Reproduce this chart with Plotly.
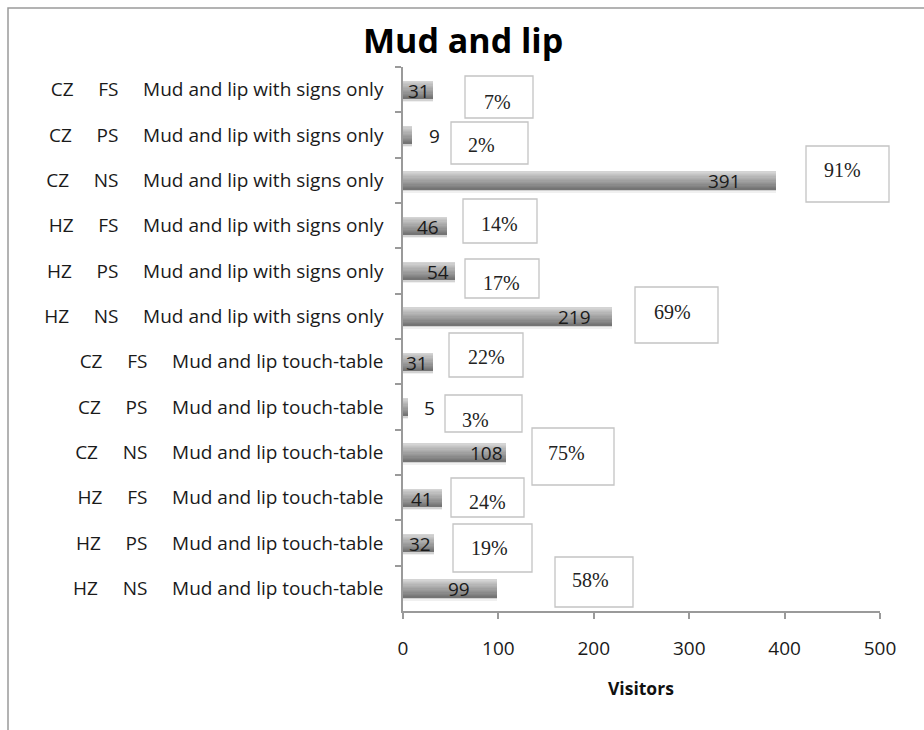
import plotly.graph_objects as go

# Visitor counts per site / survey group / exhibit, top row first
site = ["CZ", "CZ", "CZ", "HZ", "HZ", "HZ", "CZ", "CZ", "CZ", "HZ", "HZ", "HZ"]
group = ["FS", "PS", "NS", "FS", "PS", "NS", "FS", "PS", "NS", "FS", "PS", "NS"]
exhibit = ["Mud and lip with signs only"] * 6 + ["Mud and lip touch-table"] * 6
visitors = [31, 9, 391, 46, 54, 219, 31, 5, 108, 41, 32, 99]
share_pct = [7, 2, 91, 14, 17, 69, 22, 3, 75, 24, 19, 58]
x_ticks = [0, 100, 200, 300, 400, 500]

SP = "\u00a0" * 5
categories = [f"{s}{SP}{g}{SP}{e}" for s, g, e in zip(site, group, exhibit)]

# figure geometry (pixels)
W, H = 924, 730
ML, MR, MT, MB = 403, 44, 67, 119
PW, PH = W - ML - MR, H - MT - MB


def px_x(px):
    return (px - ML) / PW


def px_y(py):
    return (H - MB - py) / PH


SANS = "'Open Sans', 'Noto Sans', sans-serif"
SERIF = "'Liberation Serif', 'Times New Roman', serif"

fig = go.Figure()

# soft drop shadow under each bar
BAR_W = 0.40
for off, col in [(0.075, "rgba(0,0,0,0.06)"), (0.045, "rgba(0,0,0,0.12)")]:
    fig.add_trace(go.Bar(
        x=visitors, y=categories, orientation="h",
        width=BAR_W, offset=-BAR_W / 2 + off,
        marker=dict(color=col, line=dict(width=0)),
        hoverinfo="skip", showlegend=False,
    ))

# grey gradient: each layer covers from its top edge down to the bar bottom
n_layers = 14
light, dark = 212, 116
for i in range(n_layers):
    g = round(light + (dark - light) * i / (n_layers - 1))
    top = -BAR_W / 2 + i * BAR_W / n_layers
    fig.add_trace(go.Bar(
        x=visitors, y=categories, orientation="h",
        width=BAR_W / 2 - top, offset=top,
        marker=dict(color=f"rgb({g},{g},{g})", line=dict(width=0)),
        hoverinfo="skip", showlegend=False,
    ))

annotations = []

# value labels at the bar ends (small bars carry the label outside)
label_dx = [-1, 15, -33, -6, -4, -19, -3, 14, -1, -7, -1, -25]
for i, (v, dx) in enumerate(zip(visitors, label_dx)):
    annotations.append(dict(
        x=v, y=i, xref="x", yref="y", text=str(v), showarrow=False,
        xanchor="left" if dx > 0 else "right", xshift=dx, yshift=-1,
        font=dict(family=SANS, size=19, color="#1a1a1a"),
    ))

# share-of-visitors callout boxes: (left, right, top, bottom, text x, text y) in px
box_layout = [
    (465, 533, 76, 118, 497, 102),
    (451, 528, 122, 164, 481, 145),
    (806, 889, 146, 202, 842, 170),
    (463, 537, 199, 243, 499, 224),
    (465, 539, 259, 298, 501, 283),
    (635, 718, 287, 343, 672, 312),
    (449, 523, 333, 377, 486, 357),
    (445, 522, 395, 432, 475, 420),
    (532, 614, 428, 485, 566, 453),
    (451, 524, 478, 517, 487, 502),
    (453, 532, 524, 572, 489, 548),
    (555, 633, 557, 607, 590, 580),
]
shapes = []
for p, (x0, x1, y0, y1, tx, ty) in zip(share_pct, box_layout):
    shapes.append(dict(
        type="rect", xref="paper", yref="paper",
        x0=px_x(x0), x1=px_x(x1), y0=px_y(y1), y1=px_y(y0),
        line=dict(color="#c4c4c4", width=1.3), fillcolor="white", layer="above",
    ))
    annotations.append(dict(
        x=px_x(tx), y=px_y(ty), xref="paper", yref="paper", text=f"{p}%",
        showarrow=False, xanchor="center", yanchor="middle",
        font=dict(family=SERIF, size=20, color="#222222"),
    ))

# outer chart frame
shapes.insert(0, dict(
    type="rect", xref="paper", yref="paper",
    x0=px_x(8), x1=px_x(940), y0=px_y(745), y1=px_y(8),
    line=dict(color="#9a9a9a", width=1.5), fillcolor="rgba(0,0,0,0)", layer="below",
))

annotations.append(dict(
    x=px_x(463), y=px_y(40), xref="paper", yref="paper", text="<b>Mud and lip</b>",
    showarrow=False, xanchor="center", yanchor="middle",
    font=dict(family=SANS, size=34, color="#000000"),
))
annotations.append(dict(
    x=px_x(641), y=px_y(688), xref="paper", yref="paper", text="<b>Visitors</b>",
    showarrow=False, xanchor="center", yanchor="middle",
    font=dict(family=SANS, size=17.5, color="#111111"),
))

fig.update_layout(
    width=W, height=H,
    margin=dict(l=ML, r=MR, t=MT, b=MB, pad=0),
    paper_bgcolor="white", plot_bgcolor="white",
    barmode="overlay", bargap=0,
    showlegend=False,
    shapes=shapes, annotations=annotations,
    xaxis=dict(
        range=[0, 500], tickvals=x_ticks, ticktext=[str(t) for t in x_ticks],
        showgrid=False, zeroline=False,
        showline=True, linecolor="#9a9a9a", linewidth=1.5,
        ticks="outside", ticklen=6, tickcolor="#9a9a9a", tickwidth=1.5,
        ticklabelstandoff=13,
        tickfont=dict(family=SANS, size=19, color="#1a1a1a"),
    ),
    yaxis=dict(
        type="category", categoryorder="array", categoryarray=categories,
        autorange="reversed",
        showgrid=False, zeroline=False,
        showline=True, linecolor="#9a9a9a", linewidth=1.5,
        ticks="outside", ticklen=6, tickcolor="#9a9a9a", tickwidth=1.5,
        tickson="boundaries", ticklabelstandoff=14,
        tickfont=dict(family=SANS, size=19, color="#1a1a1a"),
    ),
)

fig.write_html("out.html")
